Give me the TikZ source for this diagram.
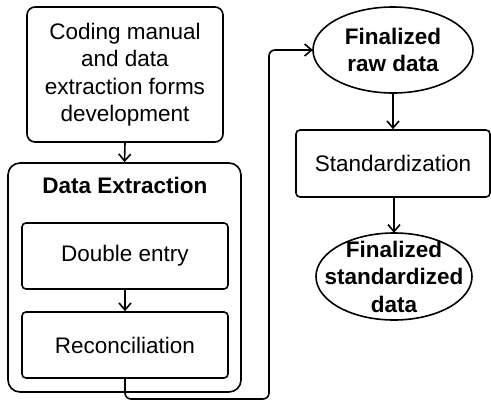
\documentclass[tikz,border=0pt]{standalone}
\usepackage{fontspec}
\setmainfont{Liberation Sans}
\usetikzlibrary{arrows.meta}
\begin{document}
\begin{tikzpicture}[x=1pt,y=-1pt,
  txt/.style={font=\fontsize{22.5}{27.5}\selectfont, align=center, inner sep=0pt},
  boxed/.style={txt, draw, line width=1.6pt, rounded corners=#1},
  boxed/.default=4pt,
  plain/.style={txt},
  link/.style={line width=1.6pt, -{Straight Barb[length=7pt,width=12pt,line width=1.6pt]}},
  oval/.style={line width=1.6pt}]
  % canvas
  \fill[white] (0,0) rectangle (491,402);
  \useasboundingbox (0,0) rectangle (491,402);

  % left column
  \node[boxed=8pt, minimum width=196pt, minimum height=135pt] (coding) at (125,74.5)
    {Coding manual\\and data\\extraction forms\\development};
  \node[boxed=12pt, minimum width=233pt, minimum height=229pt] (extract) at (124.5,277.5) {};
  \node[plain, font=\fontsize{22.5}{27.5}\selectfont\bfseries] (title) at (125,185) {Data Extraction};
  \node[boxed=4pt, minimum width=206pt, minimum height=66pt] (double) at (125,256) {Double entry};
  \node[boxed=4pt, minimum width=206pt, minimum height=66pt] (recon) at (125,345) {Reconciliation};

  % right column
  \node[plain, font=\fontsize{22.5}{27.5}\selectfont\bfseries, minimum width=160pt, minimum height=86pt] (raw) at (393,50)
    {Finalized\\raw data};
  \draw[oval] (raw.center) ellipse (80pt and 43pt);
  \node[boxed=4pt, minimum width=194pt, minimum height=67pt] (std) at (393,163.5) {Standardization};
  \node[plain, font=\fontsize{22.5}{27.5}\selectfont\bfseries, minimum width=156pt, minimum height=87pt] (final) at (394,276.5)
    {Finalized\\standardized\\data};
  \draw[oval] (final.center) ellipse (78pt and 43.5pt);

  % connectors
  \draw[link] (coding.south) -- (extract.north);
  \draw[link] (double.south) -- (recon.north);
  \coordinate (bend) at (269,399);
  \draw[link, rounded corners=6pt] (recon.south) |- (bend) |- (raw.west);
  \draw[link] (raw.south) -- (std.north);
  \draw[link] (std.south -| final.north) -- (final.north);
\end{tikzpicture}
\end{document}
